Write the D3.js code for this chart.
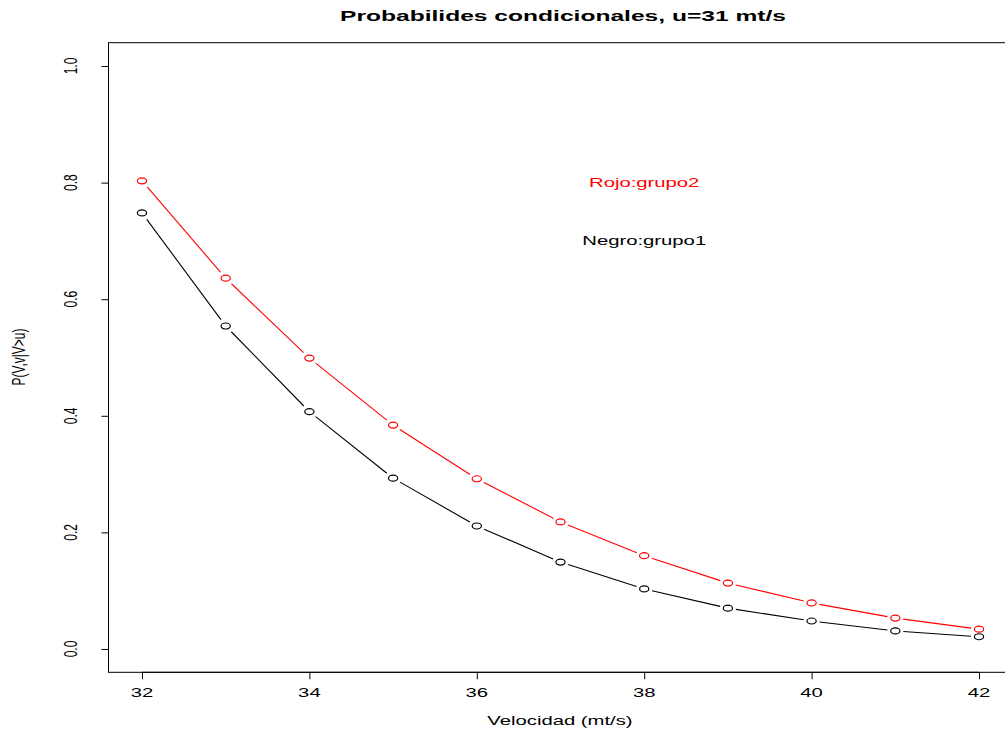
<!DOCTYPE html>
<html><head><meta charset="utf-8">
<script src="https://cdn.jsdelivr.net/npm/d3@7"></script>
<style>body{margin:0;background:#fff}svg{display:block}text{font-family:"Liberation Sans",Arial,sans-serif}</style>
</head><body>
<svg id="c" width="1005" height="731"></svg>
<script>
const velocidad = [32,33,34,35,36,37,38,39,40,41,42];
const grupo2 = [0.803,0.636,0.499,0.384,0.292,0.218,0.160,0.113,0.079,0.053,0.034];
const grupo1 = [0.748,0.554,0.407,0.293,0.211,0.149,0.103,0.070,0.048,0.031,0.021];
const xTicks = [32,34,36,38,40,42];
const yTicks = [0,0.2,0.4,0.6,0.8,1.0];
const labels = [{x:38,y:0.8,t:"Rojo:grupo2",c:"#ff0000"},{x:38,y:0.7,t:"Negro:grupo1",c:"#000"}];

const SX = 1.56; // horizontal stretch of the reference rendering
const svg = d3.select("#c");
const x = d3.scaleLinear().domain([31.6,42.4]).range([108.5,1012.5]);
const y = d3.scaleLinear().domain([-0.04,1.04]).range([672.3,42.7]);

function stext(px,py,str,size,opts={}){
  const sx = opts.sx || SX;
  const t = svg.append("text")
    .attr("transform",`translate(${px},${py}) scale(${sx},1)` + (opts.rot?" rotate(-90)":""))
    .attr("text-anchor","middle").attr("font-size",size)
    .attr("fill",opts.fill||"#000").text(str);
  if(opts.bold) t.attr("font-weight","bold");
  if(opts.dy) t.attr("dy",opts.dy);
  return t;
}

// box
svg.append("rect").attr("x",108.5).attr("y",42.7).attr("width",904).attr("height",629.6)
  .attr("fill","none").attr("stroke","#000").attr("stroke-width",1);

// x axis
const xa = svg.append("g").attr("transform","translate(0,672.3)")
  .call(d3.axisBottom(x).tickValues(xTicks).tickSize(7).tickFormat(""));
xa.select(".domain").attr("d",`M${x(32)},0H${x(42)}`).attr("stroke","#000");
xTicks.forEach(v=>stext(x(v),697,d3.format("d")(v),13));

// y axis
const ya = svg.append("g").attr("transform","translate(108.5,0)")
  .call(d3.axisLeft(y).tickValues(yTicks).tickSize(7).tickFormat(""));
ya.select(".domain").attr("d",`M0,${y(0)}V${y(1)}`).attr("stroke","#000");
yTicks.forEach(v=>stext(76.5,y(v),d3.format(".1f")(v),12,{rot:true}));

// title & axis labels
stext(563,21,"Probabilides condicionales, u=31 mt/s",15,{bold:true,sx:1.64});
stext(560,725,"Velocidad (mt/s)",13);
stext(25,357,"P(V,v|V>u)",12,{rot:true});

// series (type="b": segments with gaps + open circles)
function series(vals,color){
  const g = svg.append("g");
  const gap = 8;
  for(let i=0;i<vals.length-1;i++){
    const x1=x(velocidad[i]),y1=y(vals[i]),x2=x(velocidad[i+1]),y2=y(vals[i+1]);
    const dx=x2-x1,dy=y2-y1,L=Math.hypot(dx,dy);
    if(L<=2*gap) continue;
    g.append("line").attr("x1",x1+dx/L*gap).attr("y1",y1+dy/L*gap)
      .attr("x2",x2-dx/L*gap).attr("y2",y2-dy/L*gap)
      .attr("stroke",color).attr("stroke-width",1.1);
  }
  g.selectAll("ellipse").data(vals).join("ellipse")
    .attr("cx",(d,i)=>x(velocidad[i])).attr("cy",d=>y(d))
    .attr("rx",4.6).attr("ry",3.0).attr("fill","none").attr("stroke",color).attr("stroke-width",1.2);
}
series(grupo2,"#ff0000");
series(grupo1,"#000000");

labels.forEach(d=>stext(x(d.x),y(d.y),d.t,13,{fill:d.c,dy:"0.35em"}));
</script>
</body></html>
